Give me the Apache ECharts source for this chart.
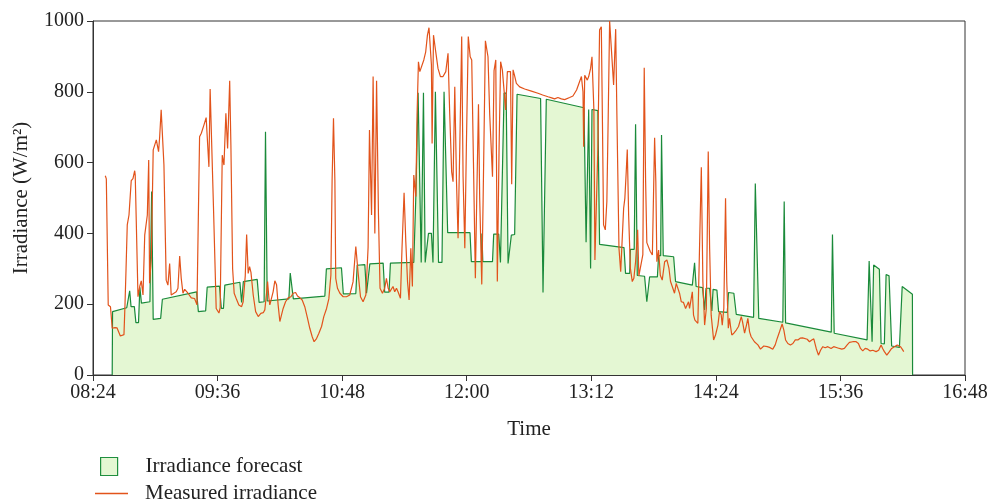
<!DOCTYPE html>
<html><head><meta charset="utf-8">
<script src="https://cdn.jsdelivr.net/npm/echarts@6/dist/echarts.min.js"></script>
<style>html,body{margin:0;padding:0;background:#fff}#chart{width:989px;height:504px}</style>
</head><body><div id="chart"></div>
<script>
// Time in minutes since midnight, irradiance in W/m^2
const forecastTime = [515.1,515.3,523.5,525.2,526.0,527.9,528.8,530.3,531.1,532.0,536.9,537.9,538.8,543.1,544.1,563.9,564.9,569.1,570.0,577.1,578.2,579.4,580.2,588.9,589.9,590.3,590.9,598.9,600.0,602.9,603.7,604.7,617.2,618.0,618.9,619.8,638.0,638.9,647.6,648.7,655.9,656.7,661.1,662.1,663.1,664.0,671.7,672.6,675.1,675.9,689.4,690.6,691.9,692.9,693.7,694.3,695.0,696.0,697.1,697.9,699.6,700.5,701.1,701.9,702.7,703.7,705.7,706.9,707.9,709.0,721.9,722.7,728.5,728.8,729.3,734.9,735.6,738.5,739.5,740.2,741.6,742.8,743.9,744.8,745.8,747.7,749.1,762.7,764.1,766.0,787.8,789.0,789.9,790.5,791.0,791.6,792.4,795.8,796.8,810.9,811.8,814.2,814.6,816.8,817.6,818.6,822.8,824.1,825.7,830.2,830.9,832.1,832.6,833.6,839.6,840.7,850.4,851.7,852.6,856.3,857.5,858.3,860.4,861.7,862.4,864.6,865.6,870.6,871.3,874.4,875.8,885.8,886.8,887.7,888.8,902.7,903.5,904.3,930.7,931.4,932.4,951.4,952.6,953.3,954.3,955.2,958.5,959.5,961.4,962.4,964.1,965.6,970.1,971.7,977.6,977.7];
const forecastValue = [0,179,190,238,193,193,148,148,248,203,207,518,157,160,214,235,179,181,248,251,188,188,254,262,205,205,264,270,205,207,687,209,215,288,288,215,223,300,303,229,230,310,312,231,231,314,316,234,234,316,318,505,797,797,318,318,797,318,318,400,400,318,318,800,800,318,318,800,800,402,402,320,320,400,320,320,398,398,318,318,796,796,315,315,395,397,793,781,233,779,755,375,375,750,750,301,750,747,369,360,287,287,355,355,708,281,279,207,277,277,337,337,678,337,334,264,254,317,250,247,184,245,245,181,242,240,179,177,233,231,171,163,541,538,160,149,490,147,121,397,118,99,322,318,94,311,299,89,88,284,280,82,78,250,228,0];

const measuredTime = [511.1,511.7,512.8,513.5,514.1,515.1,516.7,517.9,518.7,519.8,520.9,521.9,522.5,523.1,523.8,524.8,526.1,527.1,528.1,528.4,530.0,531.0,531.9,532.9,533.9,535.4,536.2,536.7,537.7,538.8,540.6,541.1,541.9,542.5,543.4,544.3,545.0,546.3,547.3,548.3,549.2,550.2,552.1,553.1,554.1,555.0,556.0,557.0,558.9,560.8,562.7,564.1,565.6,566.6,568.1,569.4,570.4,571.0,571.7,572.3,573.6,575.2,576.8,577.5,578.7,579.7,580.8,581.8,583.0,583.7,584.7,585.6,587.0,588.3,589.9,590.8,592.0,592.8,593.7,594.5,595.3,596.6,598.0,599.5,601.0,602.4,603.3,604.3,604.9,605.7,606.2,607.2,608.1,609.1,610.1,611.0,612.0,613.0,613.9,615.3,616.8,618.4,619.7,621.1,622.2,623.6,624.9,626.4,628.0,629.3,630.7,631.8,633.2,634.5,636.1,637.4,639.0,640.3,641.5,642.2,643.0,643.8,644.3,645.3,646.7,648.6,650.5,652.4,654.3,655.9,657.2,658.6,660.1,661.7,663.0,663.8,665.0,665.9,666.9,667.9,669.0,669.9,671.3,672.6,673.6,674.6,675.5,676.5,677.4,678.4,679.4,680.3,680.9,681.7,682.6,683.8,684.8,685.8,686.7,687.7,688.6,689.4,690.6,691.3,692.1,692.9,694.0,695.2,696.3,697.3,698.2,699.0,699.6,700.0,700.8,702.1,703.4,704.8,706.3,707.9,709.2,710.2,711.3,712.1,713.1,714.1,715.0,716.0,717.1,717.9,718.9,719.8,720.9,722.0,722.9,723.9,725.0,725.8,726.8,727.5,728.7,729.5,730.8,732.3,733.3,734.9,735.8,736.8,737.7,738.7,739.6,740.6,741.6,742.5,743.5,744.4,745.3,746.0,746.8,747.7,748.7,750.6,753.5,757.4,761.2,763.9,767.0,769.1,770.8,772.7,774.7,776.6,779.5,781.4,782.4,783.5,784.9,786.3,787.2,787.6,788.2,789.7,790.5,791.6,792.4,793.5,794.1,794.9,795.8,796.8,797.8,798.4,799.1,800.1,801.0,801.8,802.6,803.6,804.9,805.5,806.1,806.8,808.0,809.0,809.9,810.7,811.4,812.2,812.8,813.6,814.6,815.7,816.6,817.6,818.8,819.5,820.5,821.8,822.6,823.4,824.1,825.1,826.1,827.3,828.6,829.3,829.9,830.9,831.9,833.0,834.4,835.7,836.9,837.8,838.8,840.1,841.1,842.0,843.0,844.0,845.3,846.5,847.2,848.2,848.8,849.8,850.4,851.1,851.9,852.7,853.6,854.6,855.6,856.5,857.5,858.5,859.6,860.4,861.3,862.7,863.8,865.2,866.1,867.1,867.7,868.6,869.6,870.3,871.2,871.9,872.5,873.2,874.4,875.8,877.1,878.7,879.4,880.6,881.7,882.5,883.5,884.4,886.3,888.3,889.8,891.7,893.7,895.0,896.9,898.3,899.5,900.8,902.3,903.3,904.3,905.6,907.1,908.5,909.9,911.4,912.7,914.1,915.2,916.8,918.1,919.4,920.6,922.0,923.3,924.5,925.8,927.2,928.7,930.6,932.1,934.1,935.4,936.8,938.3,939.9,941.2,943.1,945.1,946.4,947.6,948.9,950.3,951.8,953.2,954.7,956.6,958.1,959.5,960.4,961.4,962.8,964.3,965.6,967.2,968.8,969.7,970.7,971.7,972.6];
const measuredValue = [563,554,198,198,193,132,134,133,128,110,112,114,200,300,424,452,549,555,577,565,221,250,266,226,395,452,607,259,330,636,664,660,631,670,749,753,593,268,254,315,226,222,235,245,336,273,231,242,231,218,216,198,673,683,706,727,725,588,808,805,480,188,175,190,621,593,739,640,831,650,300,231,213,198,193,207,280,397,287,306,290,226,179,165,174,176,184,231,264,216,198,200,235,266,255,198,151,151,188,207,218,221,231,233,223,218,212,193,160,132,108,94,103,117,137,165,188,215,282,550,725,550,273,245,231,221,221,226,263,363,290,221,207,226,360,692,452,843,400,831,452,245,231,245,273,245,235,240,250,235,245,235,240,217,358,515,376,263,212,358,250,565,504,735,885,857,857,890,913,960,981,979,876,654,960,913,866,843,843,857,909,735,574,546,814,546,386,645,956,560,358,645,956,899,890,600,273,500,765,500,256,500,944,899,735,560,860,890,264,640,885,862,857,749,857,855,857,539,862,845,824,814,808,802,796,791,786,783,780,784,780,778,784,788,791,805,824,843,800,645,847,833,843,866,899,749,325,325,640,975,984,735,424,410,490,735,1000,922,819,899,977,735,358,292,297,471,499,574,637,450,301,264,273,320,410,280,285,340,868,547,374,372,349,339,670,547,320,353,282,268,320,325,301,264,250,231,259,264,231,207,205,188,184,207,188,184,235,169,155,151,146,146,587,264,141,188,631,358,169,99,113,141,179,170,141,188,499,264,132,160,137,113,118,127,137,165,151,118,141,160,122,108,94,85,73,82,80,78,73,85,104,122,144,127,99,89,85,89,99,99,104,105,100,101,94,99,102,75,56,70,80,77,80,75,80,77,75,73,75,85,92,94,94,89,75,68,75,73,68,70,66,70,85,75,66,56,66,75,80,85,89,80,73,66];

const seriesNames = ['Irradiance forecast', 'Measured irradiance'];
const axisNames = { x: 'Time', y: 'Irradiance (W/m²)' };

const FONT = 'Liberation Serif';
const fmtTime = v => {
  const h = Math.floor(v / 60), m = Math.round(v - h * 60);
  return String(h).padStart(2, '0') + ':' + String(m).padStart(2, '0');
};
const zip = (a, b) => a.map((t, i) => [t, b[i]]);

const chart = echarts.init(document.getElementById('chart'), null, { renderer: 'canvas' });
chart.setOption({
  animation: false,
  backgroundColor: '#ffffff',
  grid: { left: 93, right: 24, top: 21, bottom: 129, containLabel: false, outerBoundsMode: 'none', show: true, borderColor: '#333', borderWidth: 1, backgroundColor: 'transparent' },
  xAxis: {
    type: 'value', min: 504, max: 1008, interval: 72,
    name: axisNames.x, nameLocation: 'middle', nameGap: 44,
    nameTextStyle: { fontFamily: FONT, fontSize: 21, color: '#222' },
    axisLine: { show: true, lineStyle: { color: '#333', width: 1 } },
    axisTick: { show: true, length: 6, lineStyle: { color: '#333' } },
    axisLabel: { formatter: fmtTime, fontFamily: FONT, fontSize: 20, color: '#222', margin: 8 },
    splitLine: { show: false }
  },
  yAxis: {
    type: 'value', min: 0, max: 1000, interval: 200,
    name: axisNames.y, nameLocation: 'middle', nameGap: 61, nameRotate: 90,
    nameTextStyle: { fontFamily: FONT, fontSize: 21, color: '#222' },
    axisLine: { show: true, lineStyle: { color: '#333', width: 1 } },
    axisTick: { show: true, length: 6, lineStyle: { color: '#333' } },
    axisLabel: { formatter: v => String(v), fontFamily: FONT, fontSize: 20, color: '#222', margin: 9 },
    splitLine: { show: false }
  },
  legend: [
    {
      left: 100, top: 456, padding: 0, orient: 'vertical', itemWidth: 17, itemHeight: 18,
      data: [{ name: seriesNames[0], icon: 'rect', itemStyle: { color: '#e4f7d3', borderColor: '#1f8f3f', borderWidth: 1.2 } }],
      textStyle: { fontFamily: FONT, fontSize: 21, color: '#222', padding: [0, 0, 0, 23] }
    },
    {
      left: 95, top: 483, padding: 0, orient: 'vertical', itemWidth: 33, itemHeight: 1.6,
      data: [{ name: seriesNames[1], icon: 'rect', itemStyle: { color: '#e2531b', borderWidth: 0 } }],
      textStyle: { fontFamily: FONT, fontSize: 21, color: '#222', padding: [0, 0, 0, 12] }
    }
  ],
  series: [
    {
      name: seriesNames[0], type: 'line', data: zip(forecastTime, forecastValue),
      symbol: 'none', smooth: false, z: 2,
      lineStyle: { color: '#1a8a3a', width: 1.2 },
      itemStyle: { color: '#1a8a3a' },
      areaStyle: { color: '#e4f7d3', opacity: 1 }
    },
    {
      name: seriesNames[1], type: 'line', data: zip(measuredTime, measuredValue),
      symbol: 'none', smooth: false, z: 3,
      lineStyle: { color: '#e2531b', width: 1.2 },
      itemStyle: { color: '#e2531b' }
    }
  ]
});
</script>
</body></html>
